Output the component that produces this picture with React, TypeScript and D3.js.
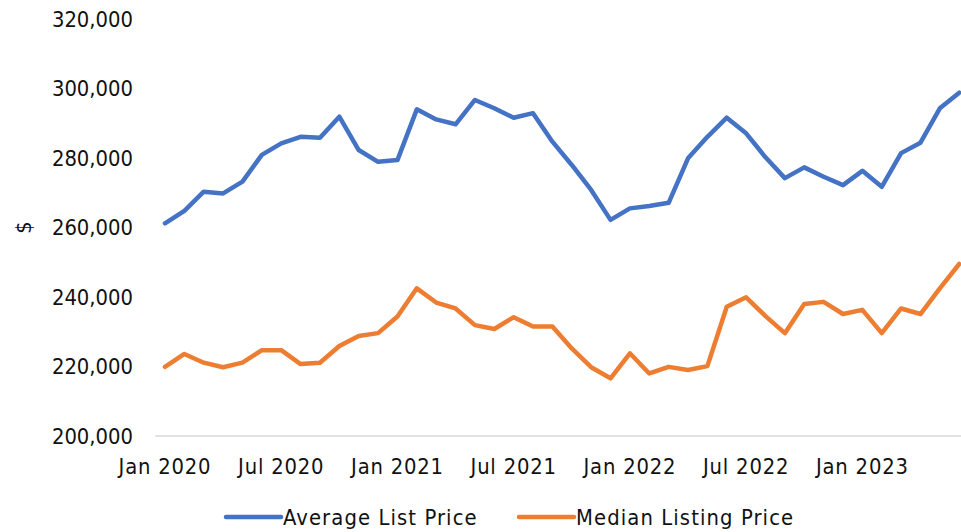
import React from 'react'
import * as d3 from 'd3'

// monthly categories, Jan 2020 .. Jun 2023
const months = d3.timeMonth.range(new Date(2020, 0, 1), new Date(2023, 6, 1))

const averageListPrice = [
  261200, 264800, 270300, 269800, 273200, 280900, 284200, 286100, 285800, 291900,
  282300, 278900, 279400, 294000, 291100, 289700, 296700, 294300, 291600, 292900,
  284700, 278000, 270800, 262200, 265500, 266200, 267100, 279900, 286100, 291600,
  287100, 280200, 274200, 277300, 274600, 272200, 276300, 271700, 281400, 284400,
  294300, 298800,
]

const medianListingPrice = [
  219900, 223600, 221100, 219800, 221100, 224700, 224700, 220700, 221100, 225900,
  228800, 229600, 234400, 242500, 238400, 236700, 231900, 230800, 234200, 231500,
  231500, 225200, 219800, 216600, 223800, 218000, 219900, 219000, 220100, 237200,
  239900, 234500, 229600, 238000, 238600, 235100, 236300, 229600, 236700, 235100,
  242500, 249500,
]

const yTicks = [200000, 220000, 240000, 260000, 280000, 300000, 320000]

const series = [
  { name: 'Average List Price', values: averageListPrice, color: '#4472C4' },
  { name: 'Median Listing Price', values: medianListingPrice, color: '#ED7D31' },
]

const font = "'DejaVu Sans Condensed', 'DejaVu Sans', sans-serif"

export default function App() {
  const width = 961,
    height = 532

  // plot area (right side runs past the frame, as in the source)
  const left = 155.3,
    right = 968.9,
    top = 19,
    bottom = 436

  const x = d3
    .scaleBand<number>()
    .domain(months.map((_, i) => i))
    .range([left, right])
    .padding(0)

  const cx = (i: number) => (x(i) as number) + x.bandwidth() / 2

  const y = d3.scaleLinear().domain([200000, 320000]).range([bottom, top])

  const line = d3
    .line<number>()
    .x((_, i) => cx(i))
    .y(d => y(d))

  const fmtY = d3.format(',')
  const fmtX = d3.timeFormat('%b %Y')

  const xLabels = months
    .map((m, i) => ({ m, i }))
    .filter(d => d.i % 6 === 0)

  return (
    <svg
      width={width}
      height={height}
      style={{ position: 'absolute', left: 0, top: 0, background: '#fff' }}
      fontFamily={font}
      fontStretch="condensed"
    >
      {/* y labels */}
      {yTicks.map(t => (
        <text key={t} x={133} y={y(t)} dy="0.35em" textAnchor="end" fontSize={21.8} fill="#111">
          {fmtY(t)}
        </text>
      ))}
      <text
        transform={`translate(23, ${y(260000)}) rotate(-90)`}
        textAnchor="middle"
        dy="0.35em"
        fontSize={21.8}
        fill="#111"
      >
        $
      </text>

      {/* baseline */}
      <line x1={left} x2={width} y1={bottom} y2={bottom} stroke="#d9d9d9" strokeWidth={1.5} />

      {/* x labels */}
      {xLabels.map(d => (
        <text
          key={d.i}
          x={cx(d.i)}
          y={466}
          dy="0.35em"
          textAnchor="middle"
          fontSize={21.8}
          letterSpacing={0.8}
          fill="#111"
        >
          {fmtX(d.m)}
        </text>
      ))}

      {/* lines */}
      {series.map(s => (
        <path
          key={s.name}
          d={line(s.values) || ''}
          fill="none"
          stroke={s.color}
          strokeWidth={4.5}
          strokeLinejoin="round"
          strokeLinecap="round"
        />
      ))}

      {/* legend */}
      {series.map((s, i) => {
        const lx = i === 0 ? 226 : 519
        return (
          <g key={s.name} transform={`translate(${lx}, 517)`}>
            <line x1={0} x2={55} y1={0} y2={0} stroke={s.color} strokeWidth={4.5} strokeLinecap="round" />
            <text x={57} y={0} dy="0.35em" fontSize={21.8} letterSpacing={1.1} fill="#111">
              {s.name}
            </text>
          </g>
        )
      })}
    </svg>
  )
}
